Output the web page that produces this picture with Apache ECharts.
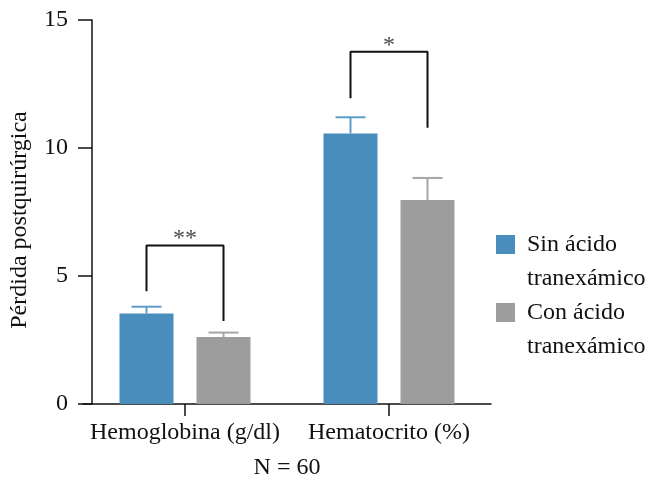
<!DOCTYPE html>
<html><head><meta charset="utf-8">
<script src="https://cdn.jsdelivr.net/npm/echarts@6/dist/echarts.min.js"></script>
<style>html,body{margin:0;padding:0;background:#fff}#c{width:648px;height:480px}</style>
</head><body><div id="c"></div>
<script>
// ---- data ----
const categories = ['Hemoglobina (g/dl)', 'Hematocrito (%)'];
const seriesNames = ['Sin ácido\ntranexámico', 'Con ácido\ntranexámico'];
const sinValues = [3.54, 10.57];
const sinErrors = [0.26, 0.63];
const conValues = [2.62, 7.97];
const conErrors = [0.17, 0.86];
const yTicks = [0, 5, 10, 15];
const bracketLabels = ['**', '*'];
const bracketTop = [6.19, 13.76];
const bracketLeftEnd = [4.40, 11.94];
const bracketRightEnd = [3.24, 10.79];
const nLabel = 'N = 60';
const yTitle = 'Pérdida postquirúrgica';

// ---- style ----
const FONT = "'Liberation Serif', 'Times New Roman', serif";
const BLUE = '#488dbb', GRAY = '#9d9d9d';
const BLUE_ERR = '#5e9dc9', GRAY_ERR = '#a6a6a6';
const BAR_W = 54, BAR_GAP_PX = 23, GRID_W = 408;
const band = GRID_W / categories.length;
const off = (BAR_GAP_PX / 2 + BAR_W / 2) / band; // offset of bar centre in category units

const chart = echarts.init(document.getElementById('c'), null, {renderer: 'canvas'});

function errSeries(vals, errs, sign, color) {
  return {
    type: 'custom', xAxisIndex: 1, yAxisIndex: 0, silent: true, z: 3,
    data: vals.map((v, i) => [i + 0.5 + sign * off, v, errs[i]]),
    renderItem(params, api) {
      const x = api.value(0), v = api.value(1), e = api.value(2);
      const p0 = api.coord([x, v]), p1 = api.coord([x, v + e]);
      return {type: 'group', children: [
        {type: 'line', shape: {x1: p0[0], y1: p0[1], x2: p1[0], y2: p1[1]}, style: {stroke: color, lineWidth: 2}},
        {type: 'line', shape: {x1: p1[0] - 15, y1: p1[1], x2: p1[0] + 15, y2: p1[1]}, style: {stroke: color, lineWidth: 2}}
      ]};
    }
  };
}

const bracketSeries = categories.map((c, i) => ({
  type: 'line', xAxisIndex: 1, yAxisIndex: 0, silent: true, symbol: 'none', z: 4,
  lineStyle: {color: '#111', width: 2},
  data: [[i + 0.5 - off, bracketLeftEnd[i]], [i + 0.5 - off, bracketTop[i]],
         [i + 0.5 + off, bracketTop[i]], [i + 0.5 + off, bracketRightEnd[i]]]
}));

const starSeries = {
  type: 'scatter', xAxisIndex: 1, yAxisIndex: 0, silent: true, symbolSize: 1,
  itemStyle: {color: 'rgba(0,0,0,0)'},
  data: categories.map((c, i) => ({value: [i + 0.5, bracketTop[i]], name: bracketLabels[i]})),
  label: {show: true, position: 'top', distance: 0, offset: [0, 6], formatter: p => p.name,
          fontFamily: FONT, fontSize: 24, color: '#111'}
};

chart.setOption({
  animation: false,
  backgroundColor: '#fff',
  textStyle: {fontFamily: FONT},
  grid: {left: 83, width: GRID_W, top: 20, height: 384, containLabel: false, outerBoundsMode: 'none'},
  legend: {
    data: seriesNames, orient: 'vertical', left: 496, top: 193.5, padding: 0,
    itemWidth: 19, itemHeight: 19, itemGap: -34, icon: 'rect', selectedMode: false,
    formatter: n => '\n' + n,
    textStyle: {fontFamily: FONT, fontSize: 24, color: '#111', lineHeight: 34, padding: [0, 0, 0, 7]}
  },
  xAxis: [{
    type: 'category', data: categories, gridIndex: 0,
    name: nLabel, nameLocation: 'middle', nameGap: 52,
    nameTextStyle: {fontFamily: FONT, fontSize: 24, color: '#111'},
    axisLine: {show: true, lineStyle: {color: '#111', width: 1.5}},
    axisTick: {show: true, alignWithLabel: true, length: 12, lineStyle: {color: '#111', width: 1.5}},
    axisLabel: {interval: 0, fontFamily: FONT, fontSize: 24, color: '#111', margin: 17},
    splitLine: {show: false}
  }, {
    type: 'value', gridIndex: 0, min: 0, max: categories.length, show: false
  }],
  yAxis: [{
    type: 'value', min: yTicks[0], max: yTicks[yTicks.length - 1], interval: yTicks[1] - yTicks[0],
    offset: -9,
    name: yTitle, nameLocation: 'middle', nameGap: 60,
    nameTextStyle: {fontFamily: FONT, fontSize: 24, color: '#111', padding: [0, 16, 0, 0]},
    axisLine: {show: true, lineStyle: {color: '#111', width: 1.5}},
    axisTick: {show: true, inside: false, length: 14, lineStyle: {color: '#111', width: 1.5}},
    axisLabel: {fontFamily: FONT, fontSize: 24, color: '#111', margin: 24},
    splitLine: {show: false}
  }],
  series: [
    {name: seriesNames[0], type: 'bar', xAxisIndex: 0, data: sinValues, barWidth: BAR_W,
     barGap: (BAR_GAP_PX / BAR_W * 100) + '%', itemStyle: {color: BLUE}, z: 2},
    {name: seriesNames[1], type: 'bar', xAxisIndex: 0, data: conValues, barWidth: BAR_W,
     itemStyle: {color: GRAY}, z: 2},
    errSeries(sinValues, sinErrors, -1, BLUE_ERR),
    errSeries(conValues, conErrors, 1, GRAY_ERR),
    ...bracketSeries,
    starSeries
  ]
});
</script></body></html>
